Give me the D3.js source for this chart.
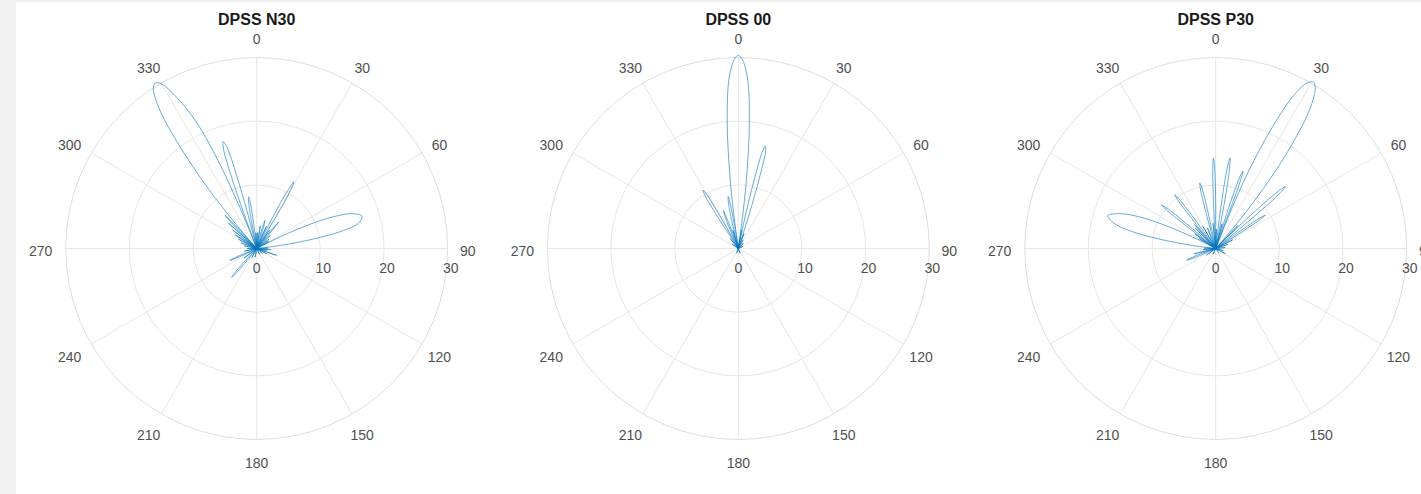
<!DOCTYPE html>
<html>
<head>
<meta charset="utf-8">
<script src="https://cdn.jsdelivr.net/npm/d3@7"></script>
<style>
  body { margin: 0; background: #f0f0f0; }
  svg { display: block; }
  text { font-family: "Liberation Sans", Arial, Helvetica, sans-serif; }
</style>
</head>
<body>
<div id="vis"></div>
<script>
// polar grid ticks
const thetaTicks = [0, 30, 60, 90, 120, 150, 180, 210, 240, 270, 300, 330];
const rTicks = [0, 10, 20, 30];
const titles = ["DPSS N30", "DPSS 00", "DPSS P30"];

// beam patterns: [theta in degrees (clockwise from top), r]
const patternN30 = [
  [0, 0], [3, 2.5], [5, 0],
  [7, 0], [9, 3.6], [11, 0],
  [13.5, 0], [15, 3.2], [16.5, 4.6], [18, 3.2], [19.5, 0],
  [21.5, 0], [23.5, 3.8], [25.5, 0],
  [26.2, 0], [27.2, 6], [28, 10], [29.2, 12], [30.4, 10], [31.2, 6], [32.1, 0],
  [33, 0], [35, 3.6], [37, 0],
  [37.6, 0], [38.6, 3.5], [39.6, 5.4], [40.6, 3.5], [41.6, 0],
  [44, 0], [46, 3], [48, 0],
  [51, 0], [53, 2.4], [55, 0],
  [57, 0], [59, 2.2], [61, 0],
  [62, 0], [63.5, 4], [65.5, 9], [67.5, 13], [70, 16], [73, 17.3], [76, 16.5], [78.5, 13.5], [80.5, 9], [82.5, 4], [84, 0],
  [86, 0], [88, 1.8], [90, 0],
  [93, 0], [95, 2.2], [97, 0],
  [100, 0], [102, 1.6], [104, 0],
  [106.5, 0], [109, 3.3], [111.5, 0],
  [115, 0], [118, 1.8], [121, 0],
  [128, 0], [131, 1.2], [134, 0],
  [150, 0], [154, 1], [158, 0],
  [186, 0], [190, 1.4], [194, 0],
  [205, 0], [208, 1.6], [211, 0],
  [217.5, 0], [219, 3.5], [220.2, 5.5], [221, 6], [221.8, 5.5], [223, 3.5], [224.5, 0],
  [230, 0], [233, 2.5], [236, 0],
  [243, 0], [244.5, 3], [246, 4.6], [247.5, 3], [249, 0],
  [255, 0], [258, 2], [261, 0],
  [267, 0], [270, 1.5], [273, 0],
  [279, 0], [282, 2], [285, 0],
  [287.5, 0], [290, 2.6], [292.5, 0],
  [295, 0], [297, 3.2], [299, 0],
  [300.5, 0], [302.5, 4], [304.5, 0],
  [305.5, 0], [307.5, 4.8], [309.5, 0],
  [310.5, 0], [312, 6], [313.5, 0],
  [314, 0], [315.2, 5], [316.2, 7.2], [317.2, 5], [318, 0],
  [318.5, 0], [319.5, 5], [321, 12], [323, 20], [325, 26.5], [327, 29.8], [328.5, 30.5], [330, 29.8], [332, 27], [334.5, 22], [336.5, 14], [338, 5], [339, 0],
  [339.2, 0], [339.9, 6], [340.6, 12], [341.5, 16.3], [342.6, 17.6], [343.7, 16.5], [344.6, 12], [345.5, 6], [346.4, 0],
  [347.5, 0], [349.2, 5], [350.4, 7.8], [351, 8.2], [351.7, 7.8], [352.8, 5], [354, 0],
  [355, 0], [357, 2.5], [359, 0]
];

const pattern00 = [
  [0, 30.3], [1, 29.9], [3, 27], [5, 20], [6.5, 12], [7.5, 6], [8.5, 0],
  [9.3, 0], [9.9, 3], [10.5, 0],
  [10.8, 0], [12.2, 6], [13.2, 12], [14, 15.8], [14.8, 16.6], [15.7, 15.8], [16.6, 12], [17.6, 6], [18.8, 0],
  [19.5, 0], [21, 2.5], [23, 0],
  [27, 0], [30, 1.5], [33, 0],
  [40, 0], [44, 1.2], [48, 0],
  [60, 0], [65, 0.8], [70, 0],
  [150, 0], [160, 0.8], [170, 0],
  [190, 0], [200, 0.8], [210, 0],
  [300, 0], [306, 1.2], [312, 0],
  [318, 0], [321, 2], [324, 0],
  [325.6, 0], [326.9, 6], [327.8, 9.8], [328.8, 10.7], [329.8, 9.8], [330.7, 6], [332, 0],
  [335, 0], [336.5, 4], [338, 6], [338.6, 6.4], [339.3, 5], [340.5, 0],
  [342, 0], [343.5, 3], [345, 0],
  [345.4, 0], [346.8, 5], [348.2, 7.8], [349, 8.3], [349.8, 7], [350.6, 4], [351.2, 0],
  [351.5, 0], [352.5, 6], [353.5, 12], [355, 20], [357, 27], [359, 29.9]
];

const patternP30 = [
  [0.5, 0], [2, 3], [3.5, 0],
  [6.3, 0], [7.2, 7], [8.1, 12.5], [9, 14.4], [9.9, 12.5], [10.8, 7], [11.7, 0],
  [13, 0], [14.5, 4], [16, 0],
  [16.8, 0], [17.7, 7], [18.5, 11.5], [19.3, 12.9], [20.1, 11], [20.8, 0],
  [21.8, 6], [23, 13], [25, 21], [27, 27], [29, 29.8], [30.5, 30.3], [32, 29.5], [34, 26.5], [36, 21], [38, 14], [40, 6], [41.5, 0],
  [42.5, 0], [44, 5], [45, 0],
  [45.4, 0], [46.4, 7], [47.4, 12.8], [48.4, 14.6], [49.4, 12.8], [50.3, 7], [51.2, 0],
  [53.2, 0], [54.5, 5], [55.4, 8.6], [56, 9.4], [56.7, 8.6], [57.6, 5], [58.8, 0],
  [61, 0], [63, 3], [65, 0],
  [68, 0], [71, 2], [74, 0],
  [80, 0], [84, 1.5], [88, 0],
  [100, 0], [105, 1.2], [110, 0],
  [115, 0], [118, 1.7], [121, 0],
  [140, 0], [145, 0.8], [150, 0],
  [200, 0], [205, 1], [210, 0],
  [230, 0], [234, 1.8], [238, 0],
  [244.5, 0], [246.2, 3.5], [248, 4.9], [249.8, 3.5], [251.5, 0],
  [254, 0], [256, 3.5], [258, 0],
  [262, 0], [265, 2], [268, 0],
  [270, 0], [272.5, 1.8], [275, 0],
  [276, 0], [277.5, 4], [279.5, 9], [281.5, 13.5], [284, 16.5], [287, 17.7], [290, 16], [292.5, 13], [294.5, 9], [296.5, 4], [298, 0],
  [299, 0], [301, 3], [303, 0],
  [303.5, 0], [305, 4], [306.3, 0],
  [306.5, 0], [307.5, 6], [308.1, 10], [308.8, 10.9], [309.6, 10], [310.4, 6], [311.3, 0],
  [313, 0], [315, 4.5], [317, 0],
  [317.5, 0], [318.5, 5], [319.8, 0],
  [320.3, 0], [321.3, 6], [322, 9.8], [322.7, 10.6], [323.5, 9.8], [324.3, 6], [325.2, 0],
  [328, 0], [330, 4], [332, 0],
  [336, 0], [338, 3.5], [340, 0],
  [343.8, 0], [344.9, 6], [345.7, 9.8], [346.4, 10.6], [347.2, 9.8], [348, 6], [349, 0],
  [352, 0], [354, 4], [356, 0],
  [356.4, 0], [357.2, 7], [357.9, 12.5], [358.6, 14.2], [359.3, 12.5], [360, 7]
];

const patterns = [patternN30, pattern00, patternP30];

// layout
const width = 1421, height = 494;
const centersX = [256.7, 738.3, 1215.7];
const cy = 248.5;
const radius = 191;
const rad = Math.PI / 180;

const svg = d3.select("#vis").append("svg")
  .attr("width", width)
  .attr("height", height);

svg.append("rect")
  .attr("x", 16).attr("y", 2)
  .attr("width", width - 16).attr("height", height - 2)
  .attr("fill", "#ffffff");

const r = d3.scaleLinear().domain([0, 30]).range([0, radius]);

const line = d3.lineRadial()
  .angle(d => d[0] * rad)
  .radius(d => r(d[1]))
  .curve(d3.curveCatmullRomClosed.alpha(0.5));

patterns.forEach((data, i) => {
  const g = svg.append("g")
    .attr("transform", "translate(" + centersX[i] + "," + cy + ")");

  // spokes
  g.selectAll(".spoke")
    .data(thetaTicks)
    .join("line")
    .attr("x1", 0).attr("y1", 0)
    .attr("x2", d => r(30) * Math.sin(d * rad))
    .attr("y2", d => -r(30) * Math.cos(d * rad))
    .attr("stroke", "#e6e6e6")
    .attr("stroke-width", 1);

  // rings
  g.selectAll(".ring")
    .data(rTicks.filter(d => d > 0))
    .join("circle")
    .attr("r", d => r(d))
    .attr("fill", "none")
    .attr("stroke", d => d === 30 ? "#dedede" : "#e6e6e6")
    .attr("stroke-width", 1);

  // pattern
  g.append("path")
    .datum(data)
    .attr("d", line)
    .attr("fill", "none")
    .attr("stroke", "#0072BD")
    .attr("stroke-opacity", 0.75)
    .attr("stroke-width", 0.8)
    .attr("stroke-linejoin", "round");

  // theta labels
  g.selectAll(".tlab")
    .data(thetaTicks)
    .join("text")
    .attr("x", d => (d > 180 ? 216 : 211) * Math.sin(d * rad))
    .attr("y", d => 3 - 212 * Math.cos(d * rad))
    .attr("dy", "0.35em")
    .attr("text-anchor", "middle")
    .style("font-size", "14px")
    .attr("fill", "#505050")
    .text(d => d);

  // radial labels
  g.selectAll(".rlab")
    .data(rTicks)
    .join("text")
    .attr("x", d => r(d) + (d > 0 ? 3 : 0))
    .attr("y", 20)
    .attr("dy", "0.35em")
    .attr("text-anchor", "middle")
    .style("font-size", "14px")
    .attr("fill", "#505050")
    .text(d => d);

  // title
  g.append("text")
    .attr("x", 0)
    .attr("y", 24.5 - cy)
    .attr("text-anchor", "middle")
    .style("font-size", "16px")
    .style("font-weight", "bold")
    .attr("fill", "#1a1a1a")
    .text(titles[i]);
});
</script>
</body>
</html>
